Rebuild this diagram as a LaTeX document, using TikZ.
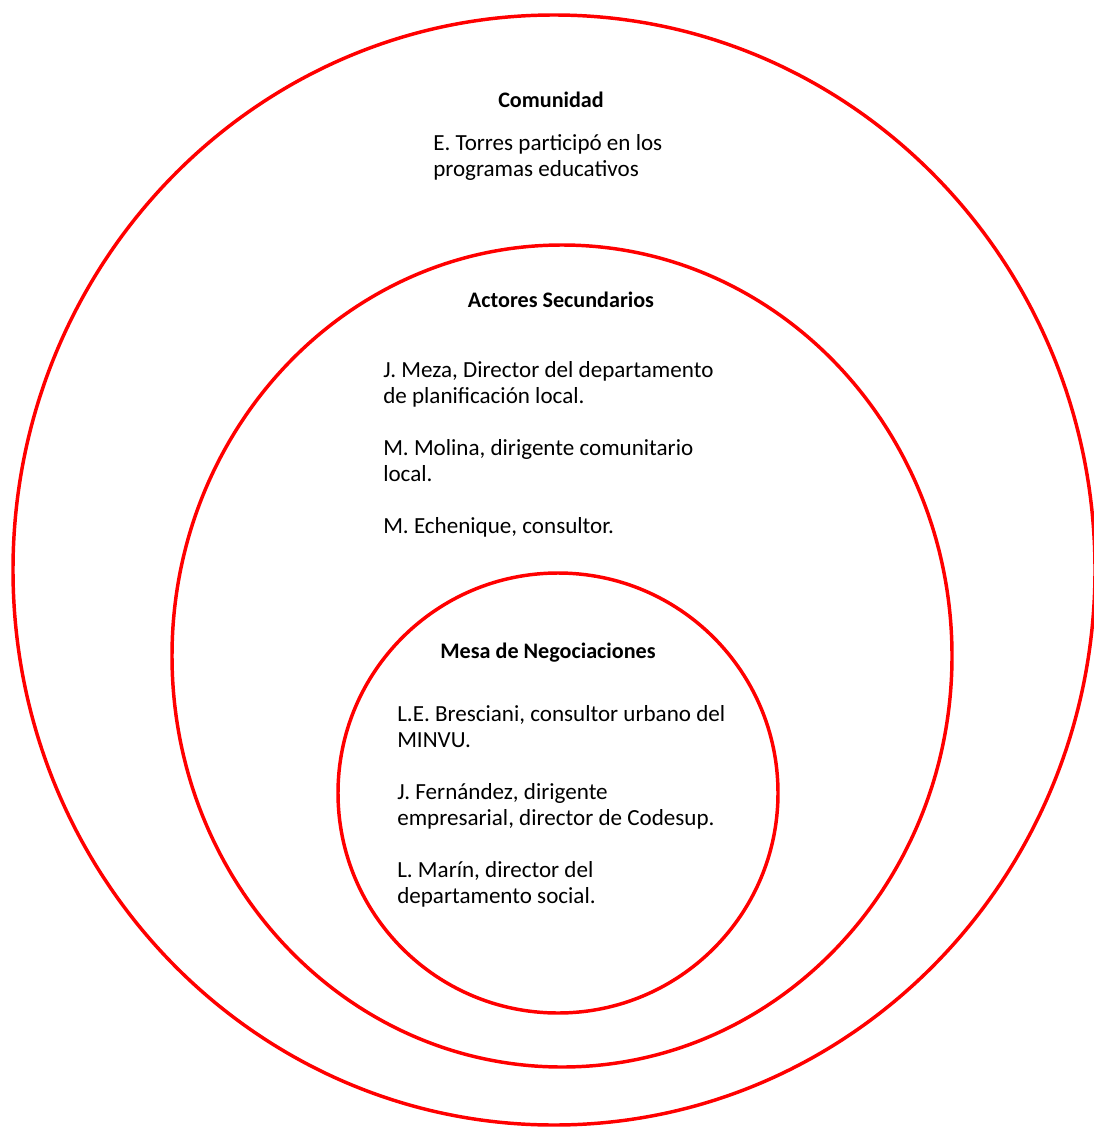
\documentclass[tikz,border=0pt]{standalone}
\usepackage{fontspec}
\setmainfont{Carlito}
\usetikzlibrary{positioning}

\begin{document}
\begin{tikzpicture}[x=0.75pt,y=-0.75pt,
    ring/.style={draw=red,line width=2.6pt},
    title/.style={anchor=base,inner sep=0pt,font=\fontsize{16.6}{19.5}\selectfont\bfseries},
    txt/.style={anchor=base west,align=left,inner sep=0pt,font=\fontsize{17.3}{19.5}\selectfont}]
  \useasboundingbox (0,0) rectangle (1094,1127);
  % rings
  \coordinate (c1) at (554,570);
  \coordinate (c2) at (562,656);
  \coordinate (c3) at (558,793);
  \draw[ring] (c1) ellipse [x radius=541,y radius=555];
  \draw[ring] (c2) ellipse [x radius=390,y radius=411];
  \draw[ring] (c3) ellipse [x radius=220,y radius=220];
  % comunidad (text nodes sit on their last baseline)
  \node[title] (com) at (551,108) {Comunidad};
  \node[txt] (torres) at (433,176) {E. Torres participó en los\\programas educativos};
  % actores secundarios
  \node[title] (act) at (561,307) {Actores Secundarios};
  \node[txt] (sec) at (383,533) {J. Meza, Director del departamento\\de planificación local.\\[19.5pt]
    M. Molina, dirigente comunitario\\local.\\[19.5pt]
    M. Echenique, consultor.};
  % mesa de negociaciones
  \node[title] (mesa) at (548,658) {Mesa de Negociaciones};
  \node[txt] (neg) at (397,903) {L.E. Bresciani, consultor urbano del\\MINVU.\\[19.5pt]
    J. Fernández, dirigente\\empresarial, director de Codesup.\\[19.5pt]
    L. Marín, director del\\departamento social.};
\end{tikzpicture}
\end{document}
